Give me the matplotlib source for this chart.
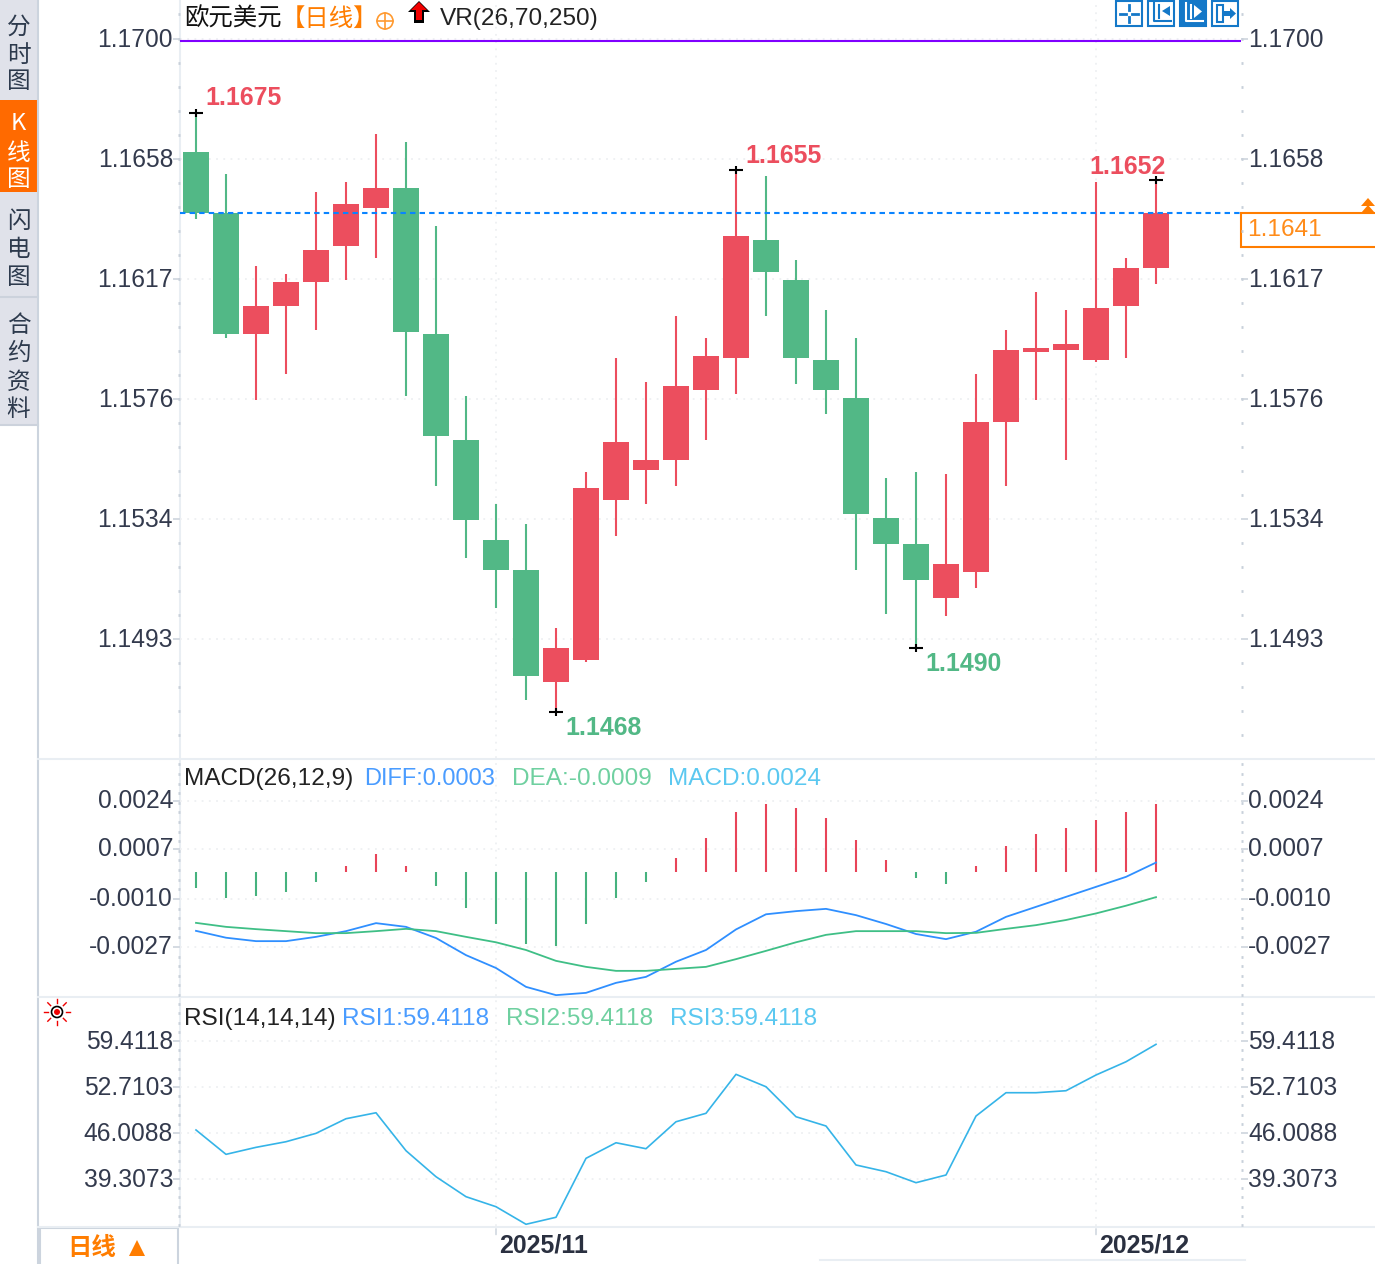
import matplotlib
matplotlib.use('Agg')
import matplotlib.pyplot as plt
from matplotlib.patches import Rectangle, Polygon, Circle
from matplotlib.ticker import AutoMinorLocator
from matplotlib.transforms import ScaledTranslation
import numpy as np

plt.rcParams['font.family'] = ['Liberation Sans', 'DejaVu Sans']
cjk = ['Noto Sans CJK SC', 'DejaVu Sans']

# daily candles, oldest first
opens = [1.16617, 1.16406, 1.15988, 1.16085, 1.16168, 1.16292, 1.16423, 1.16492, 1.15988, 1.15622, 1.15276,
         1.15173, 1.14786, 1.14862, 1.15415, 1.15518, 1.15553, 1.15795, 1.15905, 1.16313, 1.16175, 1.15898,
         1.15767, 1.15352, 1.15263, 1.15076, 1.15166, 1.15684, 1.15926, 1.15933, 1.15898, 1.16085, 1.16216]
closes = [1.16406, 1.15988, 1.16085, 1.16168, 1.16278, 1.16437, 1.16492, 1.15995, 1.15636, 1.15346, 1.15173,
          1.14807, 1.14903, 1.15456, 1.15615, 1.15553, 1.15808, 1.15912, 1.16327, 1.16202, 1.15905, 1.15795,
          1.15366, 1.15263, 1.15138, 1.15194, 1.15684, 1.15933, 1.15940, 1.15953, 1.16078, 1.16216, 1.16406]
highs = [1.16751, 1.16541, 1.16223, 1.16195, 1.16478, 1.16513, 1.16679, 1.16651, 1.16361, 1.15774, 1.15401,
         1.15332, 1.14973, 1.15511, 1.15905, 1.15822, 1.16050, 1.15974, 1.16554, 1.16534, 1.16244, 1.16071,
         1.15974, 1.15491, 1.15511, 1.15504, 1.15850, 1.16002, 1.16133, 1.16071, 1.16513, 1.16250, 1.16520]
lows = [1.16385, 1.15974, 1.15760, 1.15850, 1.16002, 1.16175, 1.16250, 1.15774, 1.15463, 1.15214, 1.15042,
        1.14724, 1.14682, 1.14855, 1.15290, 1.15401, 1.15463, 1.15622, 1.15781, 1.16050, 1.15815, 1.15712,
        1.15173, 1.15021, 1.14903, 1.15014, 1.15111, 1.15463, 1.15760, 1.15553, 1.15891, 1.15905, 1.16161]

macd_hist = [-.00057, -.00091, -.00084, -.00070, -.00035, .00020, .00061, .00020, -.00049, -.00126, -.00182,
             -.00252, -.00259, -.00182, -.00091, -.00035, .00047, .00118, .00209, .00237, .00223, .00188,
             .00111, .00041, -.00021, -.00042, .00020, .00090, .00132, .00153, .00181, .00209, .00237]
diff = [-.00207, -.00231, -.00243, -.00243, -.00228, -.00208, -.00180, -.00193, -.00232, -.00292, -.00337,
        -.00403, -.00432, -.00424, -.00389, -.00368, -.00315, -.00274, -.00202, -.00149, -.00138, -.00130,
        -.00152, -.00183, -.00218, -.00236, -.00210, -.00158, -.00123, -.00088, -.00053, -.00018, .00032]
dea = [-.00179, -.00193, -.00201, -.00208, -.00215, -.00215, -.00208, -.00200, -.00208, -.00228, -.00247,
       -.00274, -.00312, -.00333, -.00347, -.00347, -.00340, -.00333, -.00306, -.00277, -.00247, -.00221,
       -.00208, -.00208, -.00208, -.00215, -.00214, -.00200, -.00187, -.00169, -.00146, -.00119, -.00089]
rsi = [46.45, 42.90, 43.92, 44.74, 45.96, 48.09, 48.96, 43.43, 39.64, 36.73, 35.27,
       32.71, 33.73, 42.32, 44.59, 43.72, 47.65, 48.88, 54.56, 52.75, 48.38, 47.03,
       41.35, 40.37, 38.77, 39.89, 48.48, 51.88, 51.88, 52.17, 54.46, 56.39, 58.93]

price_ticks = [1.17007, 1.16592, 1.16178, 1.15763, 1.15349, 1.14934]
price_labels = ['1.1700', '1.1658', '1.1617', '1.1576', '1.1534', '1.1493']
macd_ticks = [.002475, .000795, -.000952, -.002635]
macd_labels = ['0.0024', '0.0007', '-0.0010', '-0.0027']
rsi_ticks = [59.4118, 52.7103, 46.0088, 39.3073]
rsi_labels = ['59.4118', '52.7103', '46.0088', '39.3073']
month_pos = [10, 30]
month_labels = ['2025/11', '2025/12']
extremes = [(0, 1.16751, '1.1675'), (18, 1.16554, '1.1655'), (32, 1.16520, '1.1652'),
            (12, 1.14682, '1.1468'), (24, 1.14903, '1.1490')]
last_price = 1.16406
top_line = 1.17

RED = '#ec4e5e'
GREEN = '#52b886'
INK = '#333a4d'
ORANGE = '#ff7d00'
BLUE = '#1478c8'
LINE = '#ccd4de'
PALE = '#e9eef3'

W, H = 1375, 1264
fig = plt.figure(figsize=(W / 100, H / 100), dpi=100)

# page furniture lives on a pixel axes under the panels
bg = fig.add_axes([0, 0, 1, 1], zorder=0)
bg.set_xlim(0, W)
bg.set_ylim(H, 0)
bg.axis('off')


def txt(x, y, s, color=INK, ha='left', family=None, size=17.6, weight='normal', ax=bg):
    ax.text(x, y + 2, s, color=color, ha=ha, va='center', fontsize=size, family=family, fontweight=weight, zorder=5)


# left tab strip
bg.add_patch(Rectangle((0, 0), 38, 425, fc='#e0e2ea', ec='none'))
bg.add_patch(Rectangle((0, 100), 37, 92, fc='#ff6a00', ec='none'))
bg.plot([0, 38], [296.5, 296.5], color='#ccd2dc', lw=1.5)
bg.plot([0, 38], [425, 425], color='#ccd2dc', lw=1.5)
bg.plot([38, 38], [0, H], color=LINE, lw=1.5)
for chars, ys, c in [('分时图', (25, 53, 80), '#2d3a4d'), ('K线图', (122, 151, 178), 'white'),
                     ('闪电图', (220, 248, 276), '#2d3a4d'), ('合约资料', (324, 352, 380, 408), '#2d3a4d')]:
    for ch, y in zip(chars, ys):
        txt(18.5, y, ch, c, ha='center', family=cjk, size=17)

# panel separators and axis rail
for y in (759, 997, 1227):
    bg.plot([38, W], [y, y], color=PALE, lw=1.5)
bg.plot([180, 180], [0, 1227], color=PALE, lw=1.5)
bg.plot([820, 1245], [1260, 1260], color=PALE, lw=1.5)

# headers
txt(184, 17, '欧元美元', '#111111', family=cjk)
txt(281, 17, '【日线】', ORANGE, family=cjk)
txt(440, 17, 'VR(26,70,250)', '#222222')
txt(184, 777, 'MACD(26,12,9)', '#222222')
txt(364, 777, 'DIFF:0.0003', '#4a9cff', size=17)
txt(512, 777, 'DEA:-0.0009', '#6fd0a0')
txt(668, 777, 'MACD:0.0024', '#5bc8f0')
txt(184, 1017, 'RSI(14,14,14)', '#222222')
txt(342, 1017, 'RSI1:59.4118', '#4a9cff')
txt(506, 1017, 'RSI2:59.4118', '#6fd0a0')
txt(670, 1017, 'RSI3:59.4118', '#5bc8f0')

# header icons
bg.add_patch(Circle((385, 21), 8, fc='none', ec='#ff9a30', lw=1.2))
bg.plot([377, 393], [21, 21], color='#ff9a30', lw=1.2)
bg.plot([385, 385], [13, 29], color='#ff9a30', lw=1.2)
bg.add_patch(Polygon([(419, 1), (430, 12), (424, 12), (424, 23), (414, 23), (414, 12), (408, 12)], fc='black', ec='none'))
bg.add_patch(Polygon([(419, 2), (427, 10), (422, 10), (422, 20), (416, 20), (416, 10), (411, 10)], fc='#f00000', ec='none'))
for k, left in enumerate((1116, 1148, 1180, 1212)):
    bg.add_patch(Rectangle((left, 1), 26, 25, fc=BLUE if k == 2 else 'white', ec=BLUE, lw=1.5))
    c = 'white' if k == 2 else BLUE
    if k == 0:
        bg.plot([left + 4, left + 10], [13.5, 13.5], color=c, lw=2)
        bg.plot([left + 16, left + 22], [13.5, 13.5], color=c, lw=2)
        bg.plot([left + 13, left + 13], [5, 10], color=c, lw=2)
        bg.plot([left + 13, left + 13], [17, 22], color=c, lw=2)
    elif k == 3:
        bg.add_patch(Rectangle((left + 5, 5), 6, 17, fc='white', ec=c, lw=1.5))
        bg.add_patch(Polygon([(left + 12, 11), (left + 18, 11), (left + 18, 8), (left + 24, 13.5),
                              (left + 18, 19), (left + 18, 16), (left + 12, 16)], fc=c, ec='none'))
    else:
        bg.plot([left + 6, left + 6, left + 23], [3, 21, 21], color=c, lw=1.5)
        bg.plot([left + 11, left + 11], [5, 18], color=c, lw=1.5)
        if k == 1:
            bg.add_patch(Polygon([(left + 22, 6), (left + 22, 16), (left + 14, 11)], fc=c, ec='none'))
        else:
            bg.add_patch(Polygon([(left + 14, 5), (left + 14, 18), (left + 22, 11.5)], fc=c, ec='none'))

# last price tag
bg.add_patch(Rectangle((1241.5, 213), 140, 34, fc='white', ec=ORANGE, lw=1.5))
txt(1247, 228, '1.1641', '#ff8c1a')
bg.add_patch(Polygon([(1361, 206), (1375, 206), (1368, 198)], fc=ORANGE, ec='none'))
bg.add_patch(Polygon([(1361, 213), (1375, 213), (1368, 205)], fc=ORANGE, ec='none'))

# indicator lamp beside RSI
bg.add_patch(Circle((57, 1012), 5.5, fc='white', ec='black', lw=1.2))
bg.add_patch(Circle((57, 1012), 3, fc='#f00000', ec='none'))
for a in np.arange(0, 360, 45):
    dx, dy = np.cos(np.radians(a)), np.sin(np.radians(a))
    bg.plot([57 + 9 * dx, 57 + 13 * dx], [1012 + 9 * dy, 1012 + 13 * dy], color='#f00000', lw=1)

# period selector
bg.add_patch(Rectangle((40, 1228), 138, 40, fc='white', ec=LINE, lw=1.5))
txt(67, 1246, '日线', ORANGE, family=cjk, size=17.6, weight='bold')
bg.add_patch(Polygon([(129, 1256), (145, 1256), (137, 1240)], fc=ORANGE, ec='none'))


def panel(top, bottom, ylim, ticks, labels):
    ax = fig.add_axes([180 / W, 1 - bottom / H, (1241 - 180) / W, (bottom - top) / H], zorder=2)
    ax.patch.set_alpha(0)
    ax.set_xlim(-16 / 30, (1241 - 196) / 30)
    ax.set_ylim(*ylim)
    for s in ax.spines.values():
        s.set_visible(False)
    ax.set_xticks(month_pos)
    ax.set_xticklabels([])
    ax.set_yticks(ticks)
    ax.set_yticklabels(labels)
    ax.yaxis.set_minor_locator(AutoMinorLocator(5))
    ax.tick_params(axis='x', length=0)
    ax.tick_params(axis='y', which='major', length=5, width=1.4, color='#d4dae2', pad=0,
                   labelsize=17.7, labelcolor=INK, left=True, right=True, labelleft=True, labelright=True)
    ax.tick_params(axis='y', which='minor', length=1.5, width=2, color='#c8d0da', left=True, right=True)
    ax.grid(True, which='major', color='#eef0f2', lw=1.3, ls=(0, (1, 3)))
    ax.set_axisbelow(True)
    # labels sit a little above their ticks
    up = ScaledTranslation(0, 2 / 100, fig.dpi_scale_trans)
    for t in ax.yaxis.get_major_ticks():
        t.label1.set_transform(t.label1.get_transform() + up)
        t.label2.set_transform(t.label2.get_transform() + up)
    return ax


idx = np.arange(len(closes))

# candles
ax = panel(0, 758, (1.14524, 1.17142), price_ticks, price_labels)
for i in idx:
    c = RED if closes[i] >= opens[i] else GREEN
    ax.vlines(i, lows[i], highs[i], color=c, lw=1.5, zorder=3)
    ax.bar(i, abs(closes[i] - opens[i]), bottom=min(opens[i], closes[i]), width=26 / 30, color=c, zorder=3)
ax.plot([-16 / 30, (1241 - 196) / 30], [top_line, top_line], color='#8000ff', lw=1.5, zorder=4)
ax.plot([-16 / 30, (1241 - 196) / 30], [last_price, last_price], color='#0a84ff', lw=1.5, dashes=(2.6, 2), zorder=4)
for i, p, s in extremes:
    ax.plot(i, p, marker='_', ms=10, mew=1.5, color='black', zorder=5)
    ax.plot(i, p, marker='|', ms=6, mew=1.5, color='black', zorder=5)
    high = p > 1.16
    dx = 9.5 if i != 32 else -66.5
    dy = 15 if i == 0 else (13 if i == 32 else 14)
    if not high:
        dy = 16
    ax.annotate(s, (i, p), xytext=(dx * 0.72, (dy if high else -dy) * 0.72), textcoords='offset points',
                color=RED if high else GREEN, fontsize=17.9, fontweight='bold', va='center', ha='left', zorder=6)

# MACD
ax2 = panel(760, 996, (-.00435, .00391), macd_ticks, macd_labels)
ax2.vlines(idx, 0, macd_hist, colors=['#e84458' if v > 0 else '#46b27e' for v in macd_hist], lw=1.5, zorder=3)
ax2.plot(idx, diff, color='#2f8fff', lw=1.3, zorder=4)
ax2.plot(idx, dea, color='#3fbf86', lw=1.3, zorder=4)

# RSI
ax3 = panel(998, 1226, (32.46, 65.68), rsi_ticks, rsi_labels)
ax3.plot(idx, rsi, color='#35b4e8', lw=1.2, zorder=4)

# month ticks below the last panel
for m, s in zip(month_pos, month_labels):
    ax3.annotate('', (m, 0), xycoords=ax3.get_xaxis_transform(), xytext=(m, -0.05),
                 textcoords=ax3.get_xaxis_transform(), arrowprops=dict(arrowstyle='-', color='#c8d0da', lw=1))
    ax3.annotate(s, (m, 0), xycoords=ax3.get_xaxis_transform(), xytext=(2.2, -14), textcoords='offset points',
                 color='#2a3040', fontsize=17.9, fontweight='bold', ha='left', va='center', annotation_clip=False)

fig.savefig('out.png', dpi=100)
